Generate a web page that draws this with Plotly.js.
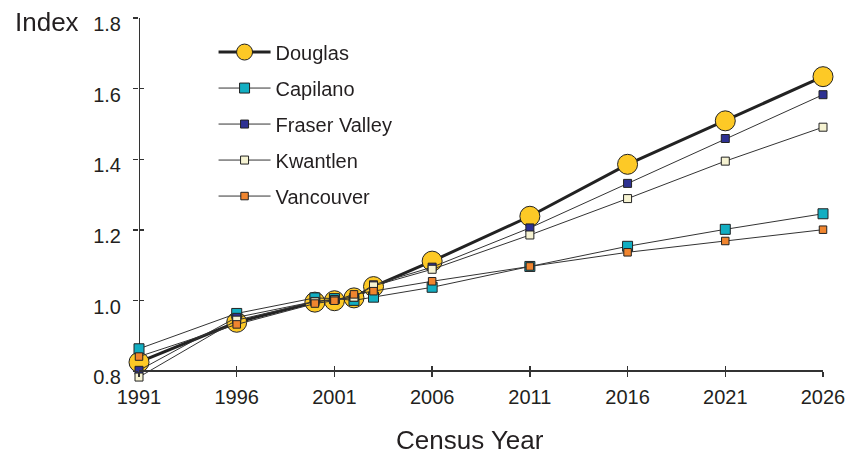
<!DOCTYPE html>
<html>
<head>
<meta charset="utf-8">
<script src="https://cdn.plot.ly/plotly-3.0.1.min.js"></script>
<style>html,body{margin:0;padding:0;background:#fff;}#chart{width:857px;height:456px;}</style>
</head>
<body>
<div id="chart"></div>
<script>
var years = [1991, 1996, 2000, 2001, 2002, 2003, 2006, 2011, 2016, 2021, 2026];
var douglas   = [0.826, 0.939, 0.996, 1.000, 1.008, 1.040, 1.112, 1.239, 1.386, 1.509, 1.634];
var capilano  = [0.864, 0.964, 1.008, 1.006, 1.001, 1.010, 1.038, 1.097, 1.154, 1.202, 1.246];
var fraser    = [0.803, 0.953, 0.998, 1.003, 1.010, 1.045, 1.095, 1.206, 1.332, 1.459, 1.583];
var kwantlen  = [0.784, 0.945, 0.997, 1.002, 1.010, 1.042, 1.089, 1.186, 1.289, 1.395, 1.491];
var vancouver = [0.842, 0.933, 0.992, 1.000, 1.018, 1.027, 1.055, 1.097, 1.137, 1.169, 1.201];
var xTicks = [1991, 1996, 2001, 2006, 2011, 2016, 2021, 2026];
var yTicks = [0.8, 1.0, 1.2, 1.4, 1.6, 1.8];
var yTickText = ['0.8', '1.0', '1.2', '1.4', '1.6', '1.8'];

var Y_MIN = 0.77, Y_AXIS = 0.8, Y_MAX = 1.8;
var X_MIN = 1991, X_MAX = 2026;
var xPos = (Y_AXIS - Y_MIN) / (Y_MAX - Y_MIN);

var FONT = 'Liberation Sans, Arial, sans-serif';
var TXT = '#231f20';

function series(name, vals, color, size, symbol, lw, lc) {
  return {
    type: 'scatter', mode: 'lines+markers', name: name, x: years, y: vals,
    legendgroup: name, cliponaxis: false,
    line: {color: lc, width: lw},
    marker: {symbol: symbol, size: size, color: color, line: {color: '#222', width: 1}},
    hoverinfo: 'skip'
  };
}

var traces = [
  series('Douglas', douglas, '#fdc926', 20, 'circle', 3, '#222'),
  series('Capilano', capilano, '#12aec2', 10, 'square', 1, '#333'),
  series('Fraser Valley', fraser, '#2e3192', 8, 'square', 1, '#333'),
  series('Kwantlen', kwantlen, '#f6f3d2', 8, 'square', 1, '#333'),
  series('Vancouver', vancouver, '#f0852f', 7.5, 'square', 1, '#333'),
  {type: 'scatter', mode: 'markers', x: years, y: douglas, xaxis: 'x2', yaxis: 'y2',
   opacity: 0, showlegend: false, hoverinfo: 'skip', marker: {size: 1}}
];

var layout = {
  width: 857, height: 456,
  margin: {l: 139, r: 34, t: 18, b: 74.4},
  paper_bgcolor: '#fff', plot_bgcolor: '#fff',
  font: {family: FONT, color: TXT, size: 20},
  showlegend: true,
  legend: {
    x: 0.109, y: 0.96, xanchor: 'left', yanchor: 'top',
    font: {family: FONT, size: 20, color: TXT},
    bgcolor: 'rgba(0,0,0,0)', borderwidth: 0,
    tracegroupgap: 7, itemwidth: 52, traceorder: 'grouped'
  },
  xaxis: {
    range: [X_MIN, X_MAX], tickmode: 'array', tickvals: xTicks, ticktext: xTicks.map(String),
    anchor: 'free', position: xPos,
    showgrid: false, zeroline: false, showline: true, linecolor: '#333', linewidth: 2,
    ticks: 'outside', ticklen: 5, tickwidth: 1.5, tickcolor: '#333',
    ticklabelstandoff: 3,
    tickfont: {family: FONT, size: 20, color: TXT}
  },
  yaxis: {
    range: [Y_MIN, Y_MAX], tickmode: 'array', tickvals: yTicks, ticktext: yTickText,
    showgrid: false, zeroline: false, showline: false,
    ticks: 'outside', ticklen: 5, tickwidth: 1.5, tickcolor: '#333',
    ticklabelstandoff: 8, ticklabelshift: 6,
    tickfont: {family: FONT, size: 20, color: TXT}
  },
  xaxis2: {
    overlaying: 'x', range: [X_MIN, X_MAX], tickmode: 'array', tickvals: xTicks,
    anchor: 'free', position: xPos,
    showticklabels: false, showgrid: false, zeroline: false, showline: false,
    ticks: 'inside', ticklen: 5, tickwidth: 1.5, tickcolor: '#333'
  },
  yaxis2: {
    overlaying: 'y', range: [Y_MIN, Y_MAX], tickmode: 'array', tickvals: yTicks,
    showticklabels: false, showgrid: false, zeroline: false, showline: false,
    ticks: 'inside', ticklen: 5, tickwidth: 1.5, tickcolor: '#333', anchor: 'x2'
  },
  shapes: [
    {type: 'line', layer: 'below', xref: 'x', yref: 'y', x0: X_MIN, x1: X_MIN, y0: Y_AXIS, y1: Y_MAX,
     line: {color: '#333', width: 2}}
  ],
  annotations: [
    {text: 'Index', xref: 'paper', yref: 'paper', x: -0.1345, y: 0.9897,
     xanchor: 'center', yanchor: 'middle', showarrow: false,
     font: {family: FONT, size: 26, color: TXT}},
    {text: 'Census Year', xref: 'paper', yref: 'paper', x: 0.484, y: -0.1605,
     xanchor: 'center', yanchor: 'middle', showarrow: false,
     font: {family: FONT, size: 26, color: TXT}}
  ]
};

Plotly.newPlot('chart', traces, layout, {staticPlot: true, displayModeBar: false});
</script>
</body>
</html>
